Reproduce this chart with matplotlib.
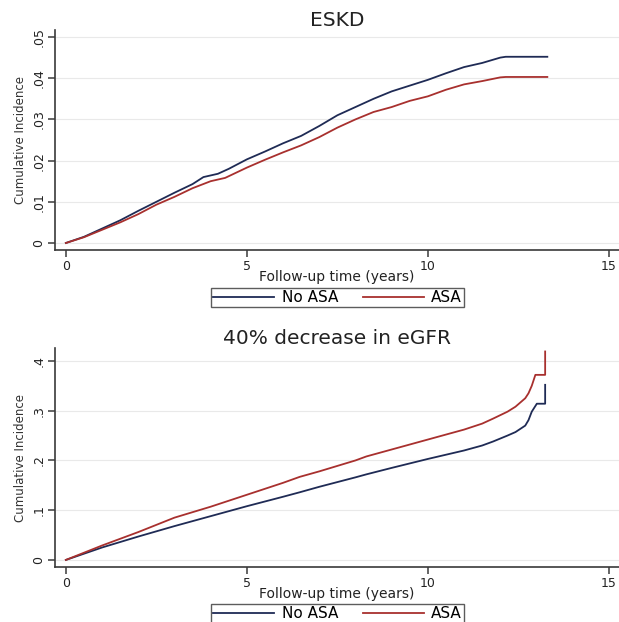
import numpy as np
import matplotlib
matplotlib.use("Agg")
import matplotlib.pyplot as plt

# ESKD panel
eskd_t_no = [0, 0.5, 1, 1.5, 2, 2.5, 3, 3.5, 3.8, 4.2, 4.5, 5, 5.5, 6, 6.5, 7, 7.5,
             8, 8.5, 9, 9.5, 10, 10.5, 11, 11.5, 12, 12.15, 13.3]
eskd_no = [0, 0.0015, 0.0035, 0.0055, 0.0078, 0.0100, 0.0122, 0.0143, 0.0160, 0.0168,
           0.0180, 0.0203, 0.0222, 0.0242, 0.0260, 0.0284, 0.0310, 0.0330, 0.0350,
           0.0368, 0.0382, 0.0396, 0.0412, 0.0427, 0.0437, 0.0450, 0.0452, 0.0452]
eskd_t_asa = [0, 0.5, 1, 1.5, 2, 2.5, 3, 3.5, 4, 4.4, 5, 5.5, 6, 6.5, 7, 7.5,
              8, 8.5, 9, 9.5, 10, 10.5, 11, 11.5, 12, 12.15, 13.3]
eskd_asa = [0, 0.0014, 0.0032, 0.0050, 0.0070, 0.0093, 0.0112, 0.0133, 0.0150, 0.0158,
            0.0183, 0.0202, 0.0220, 0.0237, 0.0257, 0.0280, 0.0300, 0.0318, 0.0330,
            0.0345, 0.0356, 0.0372, 0.0385, 0.0393, 0.0402, 0.0403, 0.0403]

# 40% decrease in eGFR panel
egfr_t_no = [0, 1, 2, 3, 4, 5, 6, 6.46, 7, 8, 8.3, 9, 10, 11, 11.5, 11.8, 12.2,
             12.42, 12.69, 12.78, 12.87, 13.01, 13.24, 13.24]
egfr_no = [0, 0.025, 0.047, 0.068, 0.088, 0.108, 0.127, 0.136, 0.147, 0.166, 0.172,
           0.185, 0.203, 0.220, 0.230, 0.238, 0.250, 0.257, 0.270, 0.281, 0.298,
           0.314, 0.314, 0.352]
egfr_t_asa = [0, 1, 2, 3, 4, 5, 6, 6.46, 7, 8, 8.3, 9, 10, 11, 11.5, 11.8, 12.2,
              12.42, 12.69, 12.78, 12.87, 12.97, 13.24, 13.24]
egfr_asa = [0, 0.029, 0.056, 0.085, 0.107, 0.131, 0.155, 0.167, 0.178, 0.200, 0.208,
            0.222, 0.242, 0.262, 0.274, 0.284, 0.298, 0.308, 0.325, 0.335, 0.350,
            0.372, 0.372, 0.419]

x_ticks = [0, 5, 10, 15]
eskd_yticks = [0, 0.01, 0.02, 0.03, 0.04, 0.05]
eskd_ylabels = ["0", ".01", ".02", ".03", ".04", ".05"]
egfr_yticks = [0, 0.1, 0.2, 0.3, 0.4]
egfr_ylabels = ["0", ".1", ".2", ".3", ".4"]

col_no = "#1f2b55"
col_asa = "#a8302e"
spine_col = "#3a3a3a"

plt.rcParams['font.family'] = ['DejaVu Sans']

fig = plt.figure(figsize=(6.19, 6.22), dpi=100)
ax1 = fig.add_axes([55/619, 1 - 250/622, 564/619, 220/622])
ax2 = fig.add_axes([55/619, 1 - 567/622, 564/619, 219/622])


def style(ax, yticks, ylabels, ylim, title, title_pad, leg_y):
    ax.set_xlim(-0.3, 15.28)
    ax.set_ylim(*ylim)
    ax.set_xticks(x_ticks)
    ax.set_yticks(yticks)
    ax.set_yticklabels(ylabels, rotation=90, va="center")
    for s in ["top", "right"]:
        ax.spines[s].set_visible(False)
    for s in ["left", "bottom"]:
        ax.spines[s].set_color(spine_col)
        ax.spines[s].set_linewidth(1.2)
    ax.tick_params(colors=spine_col, length=5, width=1.1, labelsize=9,
                   labelcolor="#222222", pad=2)
    ax.grid(axis="y", color="#e9e9e9", linewidth=0.8)
    ax.set_axisbelow(True)
    ax.set_ylabel("Cumulative Incidence", fontsize=8.5, color="#333333", labelpad=4)
    ax.set_xlabel("Follow-up time (years)", fontsize=10, color="#222222", labelpad=-2)
    ax.set_title(title, fontsize=14.5, color="#222222", pad=title_pad)
    leg = ax.legend(loc="center", bbox_to_anchor=(337.5/619, leg_y),
                    bbox_transform=fig.transFigure, ncol=2, fontsize=11,
                    frameon=True, fancybox=False, handlelength=4.0,
                    handletextpad=0.5, columnspacing=1.6, borderpad=0.15,
                    borderaxespad=0)
    leg.get_frame().set_edgecolor("#333333")
    leg.get_frame().set_linewidth(1.0)


ax1.plot(eskd_t_no, eskd_no, color=col_no, lw=1.3, label="No ASA")
ax1.plot(eskd_t_asa, eskd_asa, color=col_asa, lw=1.3, label="ASA")
style(ax1, eskd_yticks, eskd_ylabels, (-0.0017, 0.0517), "ESKD", 3, 1 - 297.5/622)

ax2.plot(egfr_t_no, egfr_no, color=col_no, lw=1.3, label="No ASA")
ax2.plot(egfr_t_asa, egfr_asa, color=col_asa, lw=1.3, label="ASA")
style(ax2, egfr_yticks, egfr_ylabels, (-0.0142, 0.426), "40% decrease in eGFR", 2,
      1 - 614/622)

fig.savefig("out.png", dpi=100)
